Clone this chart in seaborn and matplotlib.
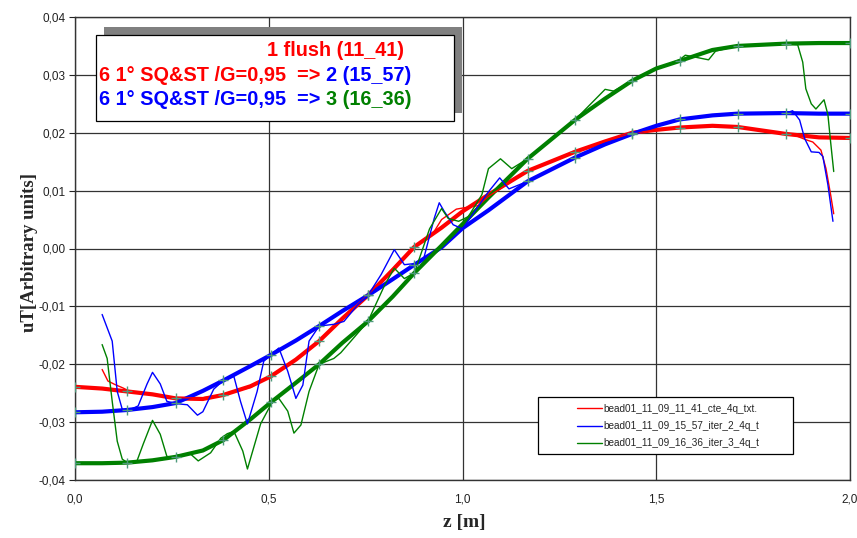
import matplotlib
matplotlib.use("Agg")
import matplotlib.pyplot as plt
import seaborn as sns
import numpy as np
import pandas as pd
from matplotlib.patches import Rectangle
from matplotlib.ticker import FuncFormatter, MultipleLocator

# --- smoothed fits (thick lines), shared z grid ---
fit_z = [0.0, 0.07, 0.135, 0.2, 0.26, 0.33, 0.383, 0.453, 0.505, 0.57, 0.63, 0.69,
         0.756, 0.82, 0.876, 0.946, 1.0, 1.067, 1.168, 1.29, 1.368, 1.438, 1.5,
         1.56, 1.645, 1.71, 1.834, 1.92, 2.0]
fit_11_41 = [-0.0239, -0.0242, -0.0247, -0.0252, -0.0259, -0.0260, -0.0253, -0.0238,
             -0.0221, -0.0192, -0.0160, -0.0121, -0.0081, -0.0037, 0.0003, 0.0036,
             0.0064, 0.0093, 0.0134, 0.0167, 0.0185, 0.0200, 0.0205, 0.0209, 0.0212,
             0.0210, 0.0198, 0.0192, 0.0191]
fit_15_57 = [-0.0283, -0.0282, -0.0279, -0.0274, -0.0267, -0.0246, -0.0228, -0.0203,
             -0.0184, -0.0159, -0.0134, -0.0108, -0.0081, -0.0053, -0.0028, 0.0002,
             0.0035, 0.0066, 0.0116, 0.0157, 0.0180, 0.0198, 0.0212, 0.0223, 0.0230,
             0.0233, 0.0234, 0.0233, 0.0233]
fit_16_36 = [-0.0371, -0.0371, -0.0370, -0.0366, -0.0360, -0.0349, -0.0331, -0.0295,
             -0.0266, -0.0232, -0.0200, -0.0163, -0.0126, -0.0083, -0.0042, 0.0005,
             0.0042, 0.0088, 0.0155, 0.0222, 0.0259, 0.0290, 0.0311, 0.0324, 0.0343,
             0.0350, 0.0354, 0.0355, 0.0355]
marker_z = [0.0, 0.135, 0.26, 0.383, 0.505, 0.63, 0.756, 0.876, 1.168, 1.29, 1.438,
            1.56, 1.71, 1.834, 2.0]

# --- raw measurements (thin lines) ---
raw_11_41_z = [0.07, 0.085, 0.103, 0.124, 0.142, 0.2, 0.26, 0.33, 0.383, 0.453, 0.505,
               0.57, 0.63, 0.69, 0.756, 0.82, 0.876, 0.92, 0.946, 0.984, 1.01, 1.04,
               1.067, 1.168, 1.29, 1.368, 1.438, 1.5, 1.56, 1.645, 1.71, 1.834, 1.86,
               1.886, 1.904, 1.925, 1.938, 1.95, 1.958]
raw_11_41 = [-0.0209, -0.0229, -0.0235, -0.0241, -0.0247, -0.0253, -0.0258, -0.0258,
             -0.0252, -0.0240, -0.0221, -0.0193, -0.0160, -0.0120, -0.0080, -0.0035,
             0.0004, 0.0022, 0.0050, 0.0068, 0.0071, 0.0074, 0.0090, 0.0134, 0.0167,
             0.0185, 0.0199, 0.0205, 0.0209, 0.0212, 0.0210, 0.0197, 0.0195, 0.0188,
             0.0184, 0.0170, 0.0138, 0.0093, 0.0060]

raw_15_57_z = [0.07, 0.096, 0.109, 0.122, 0.137, 0.163, 0.186, 0.2, 0.22, 0.237, 0.26,
               0.29, 0.316, 0.33, 0.358, 0.383, 0.41, 0.427, 0.445, 0.47, 0.487, 0.505,
               0.526, 0.549, 0.57, 0.588, 0.604, 0.63, 0.668, 0.694, 0.73, 0.756, 0.79,
               0.824, 0.85, 0.876, 0.9, 0.927, 0.94, 0.953, 0.976, 1.0, 1.067, 1.096,
               1.12, 1.168, 1.29, 1.368, 1.438, 1.5, 1.56, 1.645, 1.71, 1.834, 1.852,
               1.87, 1.883, 1.9, 1.92, 1.93, 1.943, 1.956]
raw_15_57 = [-0.0114, -0.0160, -0.0247, -0.0278, -0.0280, -0.0272, -0.0234, -0.0214,
             -0.0234, -0.0264, -0.0268, -0.0270, -0.0288, -0.0282, -0.0243, -0.0228,
             -0.0221, -0.0264, -0.0303, -0.0247, -0.0195, -0.0184, -0.0172, -0.0212,
             -0.0259, -0.0236, -0.0160, -0.0134, -0.0131, -0.0126, -0.0097, -0.0081,
             -0.0045, -0.0002, -0.0028, -0.0026, -0.0017, 0.0052, 0.0079, 0.0064,
             0.0041, 0.0034, 0.0098, 0.0122, 0.0103, 0.0116, 0.0157, 0.0180, 0.0198,
             0.0212, 0.0223, 0.0231, 0.0234, 0.0234, 0.0238, 0.0222, 0.0190, 0.0167,
             0.0166, 0.0159, 0.0110, 0.0047]

raw_16_36_z = [0.07, 0.083, 0.096, 0.109, 0.122, 0.137, 0.16, 0.176, 0.2, 0.22, 0.237,
               0.25, 0.264, 0.298, 0.318, 0.35, 0.376, 0.393, 0.41, 0.433, 0.445, 0.479,
               0.51, 0.526, 0.549, 0.565, 0.583, 0.604, 0.63, 0.668, 0.686, 0.712, 0.756,
               0.8, 0.824, 0.85, 0.876, 0.915, 0.946, 0.963, 0.99, 1.015, 1.05, 1.067,
               1.098, 1.127, 1.168, 1.29, 1.368, 1.39, 1.438, 1.5, 1.56, 1.575, 1.598,
               1.635, 1.653, 1.71, 1.834, 1.865, 1.878, 1.886, 1.9, 1.912, 1.933, 1.943,
               1.95, 1.958]
raw_16_36 = [-0.0166, -0.0190, -0.0264, -0.0333, -0.0364, -0.0371, -0.0367, -0.0338,
             -0.0297, -0.0321, -0.0359, -0.0362, -0.0357, -0.0355, -0.0367, -0.0353,
             -0.0328, -0.0320, -0.0316, -0.0350, -0.0381, -0.0303, -0.0264, -0.0259,
             -0.0281, -0.0319, -0.0305, -0.0247, -0.0200, -0.0190, -0.0180, -0.0160,
             -0.0126, -0.0062, -0.0034, -0.0052, -0.0042, 0.0034, 0.0069, 0.0052,
             0.0047, 0.0055, 0.0093, 0.0138, 0.0155, 0.0138, 0.0155, 0.0222, 0.0275,
             0.0272, 0.0290, 0.0311, 0.0326, 0.0334, 0.0331, 0.0326, 0.0341, 0.0350,
             0.0354, 0.0352, 0.0322, 0.0276, 0.0250, 0.0241, 0.0257, 0.0231, 0.0184,
             0.0133]

labels = ["bead01_11_09_11_41_cte_4q_txt.",
          "bead01_11_09_15_57_iter_2_4q_t",
          "bead01_11_09_16_36_iter_3_4q_t"]
colors = ["#ff0000", "#0000ff", "#008000"]
marker_color = "#4f9a7c"

W, H = 857, 538


def fx(px):
    return px / W


def fy(py):
    return 1 - py / H


def comma_fmt(decimals):
    def _f(v, pos):
        s = f"{v:.{decimals}f}"
        if s.startswith("-") and float(s) == 0:
            s = s[1:]
        return s.replace(".", ",")
    return FuncFormatter(_f)


def main():
    sns.set_style("white")
    plt.rcParams["font.family"] = ["Liberation Sans", "DejaVu Sans"]

    fig = plt.figure(figsize=(W / 100, H / 100), dpi=100)
    ax = fig.add_axes([fx(75), fy(480), fx(850) - fx(75), fy(17) - fy(480)])

    fits = [fit_11_41, fit_15_57, fit_16_36]
    raws = [(raw_11_41_z, raw_11_41), (raw_15_57_z, raw_15_57), (raw_16_36_z, raw_16_36)]

    # thick fitted curves
    for fit, c in zip(fits, colors):
        sns.lineplot(x=fit_z, y=fit, color=c, lw=3.0, ax=ax, legend=False,
                     sort=False, estimator=None, zorder=3)

    # thin raw curves
    for (z, v), c, lab in zip(raws, colors, labels):
        sns.lineplot(x=z, y=v, color=c, lw=1.0, ax=ax, label=lab,
                     sort=False, estimator=None, zorder=4)

    # "+" markers on the fits
    mask = np.isin(fit_z, marker_z)
    zz = np.array(fit_z)[mask]
    for fit in fits:
        sns.scatterplot(x=zz, y=np.array(fit)[mask], marker="+", s=45,
                        color=marker_color, linewidth=1.0, ax=ax, zorder=5, legend=False)

    ax.set_xlim(0, 2.0)
    ax.set_ylim(-0.04, 0.04)
    ax.xaxis.set_major_locator(MultipleLocator(0.5))
    ax.yaxis.set_major_locator(MultipleLocator(0.01))
    ax.xaxis.set_major_formatter(comma_fmt(1))
    ax.yaxis.set_major_formatter(comma_fmt(2))
    ax.grid(True, color="#333333", lw=0.9)
    ax.set_axisbelow(True)
    ax.tick_params(axis="x", length=0, pad=10, labelsize=8.5, colors="#222222")
    ax.tick_params(axis="y", length=4, width=0.8, pad=3, labelsize=8.5,
                   colors="#222222", left=True)
    for s in ax.spines.values():
        s.set_color("#333333")
        s.set_linewidth(1.0)
    ax.set_xlabel("")
    ax.set_ylabel("")

    fig.text(fx(464), fy(522), "z [m]", family="Liberation Serif", weight="bold",
             fontsize=14, ha="center", va="center")
    fig.text(fx(30), fy(252), "uT[Arbitrary units]", family="Liberation Serif",
             weight="bold", fontsize=13.5, ha="center", va="center", rotation=90)

    # legend with square frame
    leg = ax.legend(loc="center", bbox_to_anchor=(fx(668), fy(426)),
                    bbox_transform=fig.transFigure, frameon=False, fontsize=7.2,
                    handlelength=2.5, handletextpad=0.2, labelspacing=0.75)
    leg.set_zorder(10)
    fig.add_artist(Rectangle((fx(538), fy(454)), fx(793) - fx(538), fy(397) - fy(454),
                             transform=fig.transFigure, facecolor="white",
                             edgecolor="black", lw=0.9, zorder=9))
    leg.remove()
    fig.add_artist(leg)
    leg.set_zorder(10)

    # annotation box with shadow
    fig.add_artist(Rectangle((fx(104), fy(113)), fx(462) - fx(104), fy(27) - fy(113),
                             transform=fig.transFigure, facecolor="#808080",
                             edgecolor="none", zorder=11))
    fig.add_artist(Rectangle((fx(96), fy(121)), fx(454) - fx(96), fy(35) - fy(121),
                             transform=fig.transFigure, facecolor="white",
                             edgecolor="black", lw=0.9, zorder=12))
    tk = dict(fontsize=14.3, weight="bold", va="center", zorder=13,
              family=["Liberation Sans", "DejaVu Sans"])
    fig.text(fx(404), fy(50), "1 flush (11_41)", color=colors[0], ha="right", **tk)
    fig.text(fx(99), fy(75), "6 1° SQ&ST /G=0,95  =>", color=colors[0], ha="left", **tk)
    fig.text(fx(411), fy(75), "2 (15_57)", color=colors[1], ha="right", **tk)
    fig.text(fx(99), fy(100), "6 1° SQ&ST /G=0,95  =>", color=colors[1], ha="left", **tk)
    fig.text(fx(411), fy(100), "3 (16_36)", color=colors[2], ha="right", **tk)

    fig.savefig("out.png", dpi=100)
    plt.close(fig)


if __name__ == "__main__":
    main()
